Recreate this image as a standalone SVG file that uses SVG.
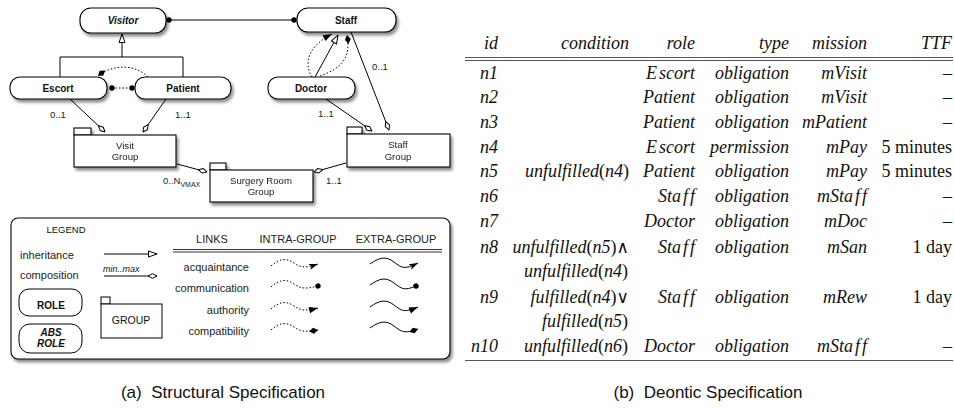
<svg xmlns="http://www.w3.org/2000/svg" width="954" height="408" viewBox="0 0 954 408">
  <defs>
    <filter id="sh" x="-20%" y="-30%" width="140%" height="170%">
      <feDropShadow dx="2" dy="3" stdDeviation="1.8" flood-color="#000" flood-opacity="0.45"/>
    </filter>
    <!-- inheritance: hollow triangle -->
    <marker id="triOpen" viewBox="0 0 10 8" refX="9.5" refY="4" markerWidth="10" markerHeight="8" markerUnits="userSpaceOnUse" orient="auto">
      <path d="M1,1 L9.5,4 L1,7 z" fill="#fff" stroke="#000" stroke-width="1"/>
    </marker>
    <!-- composition: hollow diamond -->
    <marker id="diaOpen" viewBox="0 0 10 6" refX="9.5" refY="3" markerWidth="10" markerHeight="6" markerUnits="userSpaceOnUse" orient="auto">
      <path d="M0.5,3 L5,0.7 L9.5,3 L5,5.3 z" fill="#fff" stroke="#000" stroke-width="1"/>
    </marker>
    <!-- communication: dot -->
    <marker id="dot" viewBox="0 0 6 6" refX="3" refY="3" markerWidth="6" markerHeight="6" markerUnits="userSpaceOnUse" orient="auto">
      <circle cx="3" cy="3" r="2.7" fill="#000"/>
    </marker>
    <!-- authority: filled triangle -->
    <marker id="triFill" viewBox="0 0 10 8" refX="9.5" refY="4" markerWidth="10" markerHeight="8" markerUnits="userSpaceOnUse" orient="auto">
      <path d="M0.5,0.8 L9.5,4 L0.5,7.2 z" fill="#000"/>
    </marker>
    <!-- acquaintance: barbed arrow -->
    <marker id="arrow" viewBox="0 0 10 8" refX="9.5" refY="4" markerWidth="10" markerHeight="8" markerUnits="userSpaceOnUse" orient="auto">
      <path d="M0.5,1 L9.5,4 L0.5,7 L2.5,4 z" fill="#000"/>
    </marker>
    <!-- compatibility: filled diamond -->
    <marker id="diaFill" viewBox="0 0 10 7" refX="9.5" refY="3.5" markerWidth="10" markerHeight="7" markerUnits="userSpaceOnUse" orient="auto">
      <path d="M0.5,3.5 L5,0.5 L9.5,3.5 L5,6.5 z" fill="#000"/>
    </marker>
  </defs>
  <style>
    .role { fill:#fff; stroke:#000; stroke-width:1.1; filter:url(#sh); }
    .grp { fill:#fff; stroke:#000; stroke-width:1.1; }
    .sans { font-family:"Liberation Sans", Arial, sans-serif; fill:#111; }
    .rname { font-family:"Liberation Sans", Arial, sans-serif; font-size:10px; font-weight:bold; text-anchor:middle; fill:#111; }
    .gname { font-family:"Liberation Sans", Arial, sans-serif; font-size:9.6px; text-anchor:middle; fill:#222; }
    .card { font-family:"Liberation Sans", Arial, sans-serif; font-size:9.5px; fill:#222; }
    .leg { font-family:"Liberation Sans", Arial, sans-serif; font-size:11px; fill:#222; }
    .link { fill:none; stroke:#000; stroke-width:1; }
    .dotted { fill:none; stroke:#000; stroke-width:1; stroke-dasharray:1.5 2; }
    .tb { font-family:"Liberation Serif", "Times New Roman", serif; font-style:italic; font-size:18px; fill:#111; }
    .up { font-style:normal; }
    .op { font-family:"DejaVu Serif", serif; font-style:normal; font-weight:normal; font-size:17px; }
    .r { text-anchor:end; }
    .cap { font-family:"Liberation Sans", Arial, sans-serif; font-size:17px; fill:#111; text-anchor:middle; white-space:pre; }
    .rule { stroke:#555; stroke-width:1; }
  </style>

  <!-- ===== (a) structural specification ===== -->
  <g id="connectors">
    <!-- Visitor - Staff communication -->
    <line class="link" x1="169" y1="20" x2="294" y2="20" marker-start="url(#dot)" marker-end="url(#dot)"/>
    <!-- Escort/Patient inherit from Visitor -->
    <polyline class="link" points="60,77 60,57 183,57 183,77"/>
    <line class="link" x1="122" y1="57" x2="122" y2="34" marker-end="url(#triOpen)"/>
    <!-- Escort - Patient communication -->
    <line class="dotted" x1="112" y1="88" x2="132" y2="88" marker-start="url(#dot)" marker-end="url(#dot)"/>
    <!-- Patient - Escort compatibility -->
    <path class="dotted" d="M148,77 C135,64 113,64 98,76" marker-end="url(#diaFill)"/>
    <!-- Doctor - Staff -->
    <path class="dotted" d="M312,77 C303,62 309,46 332,34" marker-end="url(#triFill)"/>
    <line class="link" x1="315" y1="77" x2="338" y2="35" marker-end="url(#triOpen)"/>
    <path class="dotted" d="M320,76 C342,68 351,58 347,35" marker-end="url(#diaFill)"/>
    <!-- compositions into groups -->
    <line class="link" x1="70" y1="99" x2="105" y2="132" marker-end="url(#diaOpen)"/>
    <line class="link" x1="166" y1="99" x2="143" y2="132" marker-end="url(#diaOpen)"/>
    <line class="link" x1="326" y1="99" x2="372" y2="131" marker-end="url(#diaOpen)"/>
    <line class="link" x1="351" y1="32" x2="389" y2="130" marker-end="url(#diaOpen)"/>
    <line class="link" x1="177" y1="164" x2="207" y2="172" marker-end="url(#diaOpen)"/>
    <line class="link" x1="346" y1="163" x2="314" y2="172" marker-end="url(#diaOpen)"/>
    <!-- cardinalities -->
    <text class="card" x="50" y="118">0..1</text>
    <text class="card" x="175" y="118">1..1</text>
    <text class="card" x="318" y="117">1..1</text>
    <text class="card" x="372" y="70">0..1</text>
    <text class="card" x="163" y="184">0..N<tspan font-size="7px" dy="3">VMAX</tspan></text>
    <text class="card" x="326" y="184">1..1</text>
  </g>

  <g id="visitor">
    <rect class="role" x="80" y="8" width="86" height="25" rx="11"/>
    <text class="rname" x="123" y="24" font-style="italic">Visitor</text>
  </g>
  <g id="staff">
    <rect class="role" x="297" y="8" width="99" height="24" rx="11"/>
    <text class="rname" x="346" y="24">Staff</text>
  </g>
  <g id="escort">
    <rect class="role" x="10" y="77" width="97" height="22" rx="10"/>
    <text class="rname" x="58" y="92">Escort</text>
  </g>
  <g id="patient">
    <rect class="role" x="135" y="77" width="96" height="22" rx="10"/>
    <text class="rname" x="183" y="92">Patient</text>
  </g>
  <g id="doctor">
    <rect class="role" x="268" y="77" width="87" height="22" rx="10"/>
    <text class="rname" x="311" y="92">Doctor</text>
  </g>
  <g id="visit-group" filter="url(#sh)">
    <rect class="grp" x="74" y="128" width="17" height="7"/>
    <rect class="grp" x="74" y="135" width="102" height="32"/>
    <text class="gname" x="125" y="149">Visit</text>
    <text class="gname" x="125" y="160">Group</text>
  </g>
  <g id="staff-group" filter="url(#sh)">
    <rect class="grp" x="347" y="127" width="15" height="7"/>
    <rect class="grp" x="347" y="134" width="103" height="33"/>
    <text class="gname" x="398" y="148">Staff</text>
    <text class="gname" x="398" y="160">Group</text>
  </g>
  <g id="surgery-room-group" filter="url(#sh)">
    <rect class="grp" x="210" y="163" width="16" height="7"/>
    <rect class="grp" x="210" y="170" width="103" height="32"/>
    <text class="gname" x="261" y="184">Surgery Room</text>
    <text class="gname" x="261" y="195">Group</text>
  </g>

  <!-- legend -->
  <g id="legend">
    <rect x="11" y="218" width="439" height="141" rx="7" fill="#fff" stroke="#000" stroke-width="1.1" filter="url(#sh)"/>
    <text class="sans" x="66" y="233" font-size="9.5px" text-anchor="middle">LEGEND</text>
    <text class="leg" x="20" y="259">inheritance</text>
    <line class="link" x1="104" y1="254" x2="157" y2="254" marker-end="url(#triOpen)"/>
    <text class="leg" x="20" y="279">composition</text>
    <text class="sans" x="103" y="272" font-size="9px" font-style="italic">min..max</text>
    <line class="link" x1="104" y1="276" x2="157" y2="276" marker-end="url(#diaOpen)"/>
    <rect x="19" y="289" width="63" height="27" rx="10" fill="#fff" stroke="#000" stroke-width="1"/>
    <text class="rname" x="51" y="309" font-size="10.5px">ROLE</text>
    <rect x="19" y="324" width="63" height="29" rx="11" fill="#fff" stroke="#000" stroke-width="1"/>
    <text class="rname" x="51" y="336" font-style="italic">ABS</text>
    <text class="rname" x="51" y="347" font-style="italic">ROLE</text>
    <rect x="101" y="297" width="9" height="7" fill="#fff" stroke="#000" stroke-width="1"/>
    <rect x="101" y="304" width="61" height="34" fill="#fff" stroke="#000" stroke-width="1"/>
    <text class="sans" x="131" y="324" font-size="10.5px" text-anchor="middle">GROUP</text>

    <text class="leg" x="212" y="243" text-anchor="middle">LINKS</text>
    <text class="leg" x="298" y="243" text-anchor="middle">INTRA-GROUP</text>
    <text class="leg" x="396" y="243" text-anchor="middle">EXTRA-GROUP</text>
    <line x1="173" y1="249.5" x2="442" y2="249.5" stroke="#333" stroke-width="1"/>
    <line x1="173" y1="252" x2="442" y2="252" stroke="#333" stroke-width="1"/>

    <text class="leg" x="249" y="271" text-anchor="end">acquaintance</text>
    <text class="leg" x="249" y="292" text-anchor="end">communication</text>
    <text class="leg" x="249" y="314" text-anchor="end">authority</text>
    <text class="leg" x="249" y="335" text-anchor="end">compatibility</text>

    <path class="dotted" d="M271,266 C280,258 287,258 294,263 S306,268 318,264" marker-end="url(#arrow)"/>
    <path class="dotted" d="M271,287 C280,279 287,279 294,284 S306,289 318,286" marker-end="url(#dot)"/>
    <path class="dotted" d="M271,309 C280,301 287,301 294,306 S306,311 318,308" marker-end="url(#triFill)"/>
    <path class="dotted" d="M271,330 C280,322 287,322 294,327 S306,332 318,330" marker-end="url(#diaFill)"/>

    <path class="link" d="M370,264 C380,257 386,256 394,262 S404,270 418,263" marker-end="url(#arrow)"/>
    <path class="link" d="M370,285 C380,278 386,277 394,283 S404,291 416,286" marker-end="url(#dot)"/>
    <path class="link" d="M370,307 C380,300 386,299 394,305 S404,313 418,307" marker-end="url(#triFill)"/>
    <path class="link" d="M370,328 C380,321 386,320 394,326 S404,334 418,329" marker-end="url(#diaFill)"/>
  </g>

  <text class="cap" x="223" y="398" xml:space="preserve">(a)  Structural Specification</text>

  <!-- ===== (b) deontic specification table ===== -->
  <g id="deontic-table">
    <text class="tb r" x="498" y="49">id</text>
    <text class="tb r" x="629" y="49">condition</text>
    <text class="tb r" x="695" y="49">role</text>
    <text class="tb r" x="789" y="49">type</text>
    <text class="tb r" x="867" y="49">mission</text>
    <text class="tb r" x="952" y="49">TTF</text>
    <line class="rule" x1="465" y1="57.5" x2="953" y2="57.5"/>
    <line class="rule" x1="465" y1="60.5" x2="953" y2="60.5"/>

    <!-- id column -->
    <text class="tb r" x="498" y="79">n1</text>
    <text class="tb r" x="498" y="103">n2</text>
    <text class="tb r" x="498" y="128">n3</text>
    <text class="tb r" x="498" y="153">n4</text>
    <text class="tb r" x="498" y="177">n5</text>
    <text class="tb r" x="498" y="202">n6</text>
    <text class="tb r" x="498" y="227">n7</text>
    <text class="tb r" x="498" y="253">n8</text>
    <text class="tb r" x="498" y="303">n9</text>
    <text class="tb r" x="498" y="352">n10</text>

    <!-- condition column -->
    <text class="tb r" x="629" y="177">unfulfilled<tspan class="up">(</tspan>n4<tspan class="up">)</tspan></text>
    <text class="tb r" x="629" y="253">unfulfilled<tspan class="up">(</tspan>n5<tspan class="up">)</tspan><tspan class="op">∧</tspan></text>
    <text class="tb r" x="628" y="277">unfulfilled<tspan class="up">(</tspan>n4<tspan class="up">)</tspan></text>
    <text class="tb r" x="629" y="303">fulfilled<tspan class="up">(</tspan>n4<tspan class="up">)</tspan><tspan class="op">∨</tspan></text>
    <text class="tb r" x="628" y="327">fulfilled<tspan class="up">(</tspan>n5<tspan class="up">)</tspan></text>
    <text class="tb r" x="628" y="352">unfulfilled<tspan class="up">(</tspan>n6<tspan class="up">)</tspan></text>

    <!-- role column -->
    <text class="tb r" x="695" y="79">E<tspan dx="2">scort</tspan></text>
    <text class="tb r" x="695" y="103">Patient</text>
    <text class="tb r" x="695" y="128">Patient</text>
    <text class="tb r" x="695" y="153">E<tspan dx="2">scort</tspan></text>
    <text class="tb r" x="695" y="177">Patient</text>
    <text class="tb r" x="695" y="202">Sta<tspan dx="2">f</tspan><tspan dx="2">f</tspan></text>
    <text class="tb r" x="695" y="227">Doctor</text>
    <text class="tb r" x="695" y="253">Sta<tspan dx="2">f</tspan><tspan dx="2">f</tspan></text>
    <text class="tb r" x="695" y="303">Sta<tspan dx="2">f</tspan><tspan dx="2">f</tspan></text>
    <text class="tb r" x="695" y="352">Doctor</text>

    <!-- type column -->
    <text class="tb r" x="789" y="79">obligation</text>
    <text class="tb r" x="789" y="103">obligation</text>
    <text class="tb r" x="789" y="128">obligation</text>
    <text class="tb r" x="789" y="153">permission</text>
    <text class="tb r" x="789" y="177">obligation</text>
    <text class="tb r" x="789" y="202">obligation</text>
    <text class="tb r" x="789" y="227">obligation</text>
    <text class="tb r" x="789" y="253">obligation</text>
    <text class="tb r" x="789" y="303">obligation</text>
    <text class="tb r" x="789" y="352">obligation</text>

    <!-- mission column -->
    <text class="tb r" x="867" y="79">mV<tspan dx="1">isit</tspan></text>
    <text class="tb r" x="867" y="103">mV<tspan dx="1">isit</tspan></text>
    <text class="tb r" x="867" y="128">mPatient</text>
    <text class="tb r" x="867" y="153">mPay</text>
    <text class="tb r" x="867" y="177">mPay</text>
    <text class="tb r" x="867" y="202">mSta<tspan dx="2">f</tspan><tspan dx="2">f</tspan></text>
    <text class="tb r" x="867" y="227">mDoc</text>
    <text class="tb r" x="867" y="253">mSan</text>
    <text class="tb r" x="867" y="303">mRew</text>
    <text class="tb r" x="867" y="352">mSta<tspan dx="2">f</tspan><tspan dx="2">f</tspan></text>

    <!-- TTF column -->
    <text class="tb r up" x="952" y="79">–</text>
    <text class="tb r up" x="952" y="103">–</text>
    <text class="tb r up" x="952" y="128">–</text>
    <text class="tb r up" x="952" y="153">5 minutes</text>
    <text class="tb r up" x="952" y="177">5 minutes</text>
    <text class="tb r up" x="952" y="202">–</text>
    <text class="tb r up" x="952" y="227">–</text>
    <text class="tb r up" x="952" y="253">1 day</text>
    <text class="tb r up" x="952" y="303">1 day</text>
    <text class="tb r up" x="952" y="352">–</text>

    <line class="rule" x1="465" y1="360.5" x2="953" y2="360.5"/>
  </g>

  <text class="cap" x="708" y="398" xml:space="preserve">(b)  Deontic Specification</text>
</svg>
